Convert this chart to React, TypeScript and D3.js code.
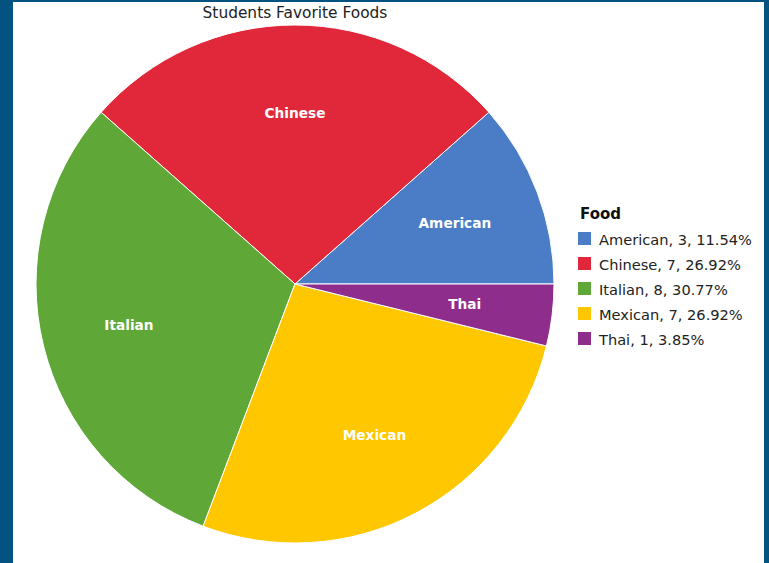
import React from "react";
import * as d3 from "d3";

const categories = ["American", "Chinese", "Italian", "Mexican", "Thai"];
const counts = [3, 7, 8, 7, 1];
const colors = ["#4a7dc5", "#e0283a", "#5fa737", "#fec700", "#8e2d8b"];
const title = "Students Favorite Foods";
const legendTitle = "Food";

const W = 769;
const H = 563;
const cx = 295;
const cy = 284;
const R = 259;
const labelR = 171;

export default function App() {
  const total = d3.sum(counts);
  const data = categories.map((c, i) => ({ name: c, value: counts[i], color: colors[i] }));
  const pie = d3
    .pie<any>()
    .value((d: any) => d.value)
    .sort(null)
    .startAngle(Math.PI / 2)
    .endAngle(Math.PI / 2 - 2 * Math.PI);
  const arcs = pie(data);
  const arc = d3.arc<any>().innerRadius(0).outerRadius(R);
  const labelArc = d3.arc<any>().innerRadius(labelR).outerRadius(labelR);
  const fmt = d3.format(".2f");
  const font = "'DejaVu Sans', Verdana, sans-serif";

  return (
    <div style={{ position: "absolute", left: 0, top: 0 }}>
      <svg width={W} height={H} style={{ display: "block" }}>
        <rect x={0} y={0} width={W} height={H} fill="#03527f" />
        <rect x={13} y={2} width={751} height={H - 2} fill="#ffffff" />
        <text
          x={cx}
          y={18}
          textAnchor="middle"
          fontFamily={font}
          fontSize={15.4}
          fill="#222"
        >
          {title}
        </text>
        <g transform={`translate(${cx},${cy})`}>
          {arcs.map((a, i) => (
            <path key={i} d={arc(a) as string} fill={a.data.color} stroke="#ffffff" strokeWidth={1} />
          ))}
          {arcs.map((a, i) => {
            const [lx, ly] = labelArc.centroid(a);
            return (
              <text
                key={"l" + i}
                x={lx}
                y={ly}
                dy="0.35em"
                textAnchor="middle"
                fontFamily={font}
                fontWeight="bold"
                fontSize={13.7}
                fill="#ffffff"
              >
                {a.data.name}
              </text>
            );
          })}
        </g>
        <g transform="translate(578,219)">
          <text x={2} y={0} fontFamily={font} fontWeight="bold" fontSize={15} fill="#111">
            {legendTitle}
          </text>
          {data.map((d, i) => (
            <g key={i} transform={`translate(0,${26 + i * 25})`}>
              <rect x={0} y={-13} width={13} height={13} fill={d.color} />
              <text x={21} y={0} fontFamily={font} fontSize={14.6} fill="#222">
                {`${d.name}, ${d.value}, ${fmt((d.value / total) * 100)}%`}
              </text>
            </g>
          ))}
        </g>
      </svg>
    </div>
  );
}
